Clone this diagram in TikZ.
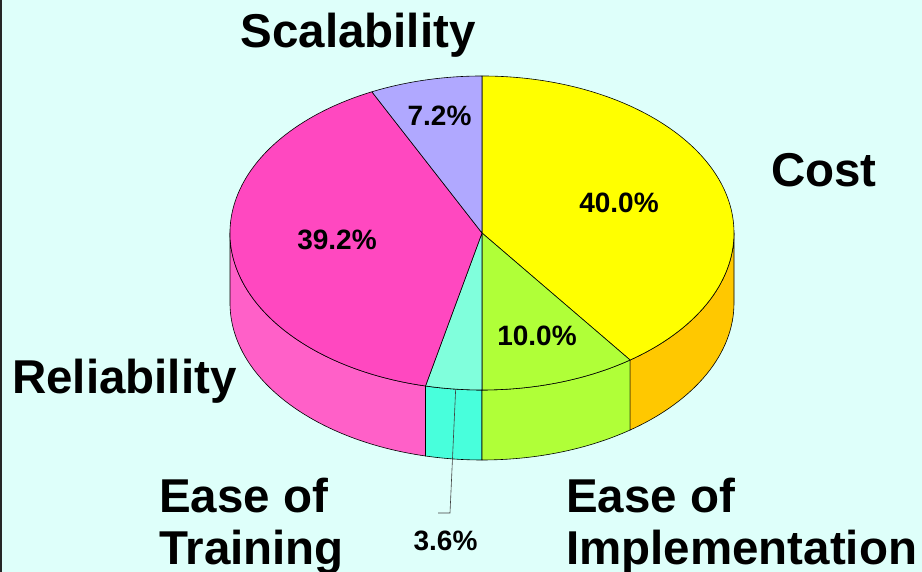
\documentclass[tikz,border=0pt]{standalone}
\usepackage{fontspec}
\setmainfont{Liberation Sans}
\usetikzlibrary{calc}
\definecolor{bgc}{HTML}{DEFFFA}
\definecolor{cyel}{HTML}{FFFF00}
\definecolor{cyelS}{HTML}{FFC800}
\definecolor{cgrn}{HTML}{B0FF38}
\definecolor{caqu}{HTML}{80FFDC}
\definecolor{caquS}{HTML}{48FFDC}
\definecolor{cpnk}{HTML}{FF48C0}
\definecolor{cpnkS}{HTML}{FF60C8}
\definecolor{clav}{HTML}{B0A8FF}
\begin{document}
\begin{tikzpicture}[x=1pt,y=1pt,
  slice/.style={draw=black,line width=0.6pt,line join=round},
  biglabel/.style={inner sep=0pt,font=\bfseries\fontsize{47.5}{52}\selectfont},
  pctlabel/.style={inner sep=0pt,font=\bfseries\fontsize{28}{32}\selectfont},
  leader/.style={draw=black!75,line width=0.6pt}]
\useasboundingbox (0,0) rectangle (922,572);
\fill[bgc] (0,0) rectangle (922,572);
\draw[black!85,line width=2pt] (1,0) -- (1,572);
\coordinate (C) at (482,339);
% side faces
\foreach \a/\b/\col in {180/257.04/cpnkS, 257.04/270/caquS, 270/306/cgrn, 306/360/cyelS}{
  \path[slice,fill=\col] ($(C)+(\a:252pt and 157pt)$)
    arc[start angle=\a,end angle=\b,x radius=252pt,y radius=157pt]
    -- ++(0,-70pt)
    arc[start angle=\b,end angle=\a,x radius=252pt,y radius=157pt] -- cycle;
}
% top wedges
\foreach \a/\b/\col in {90/-54/cyel, -54/-90/cgrn, -90/-102.96/caqu, -102.96/-244.08/cpnk, -244.08/-270/clav}{
  \path[slice,fill=\col] (C) -- ($(C)+(\a:252pt and 157pt)$)
    arc[start angle=\a,end angle=\b,x radius=252pt,y radius=157pt] -- cycle;
}
% category labels
\node[biglabel,anchor=base] (scal) at (358,524) {Scalability};
\node[biglabel,anchor=base west] (cost) at (771,385) {Cost};
\node[biglabel,anchor=base west] (reli) at (12,178) {Reliability};
\node[biglabel,anchor=base west] (train1) at (159,59) {Ease of};
\node[biglabel,anchor=base west] (train2) at (159,7) {Training};
\node[biglabel,anchor=base west] (impl1) at (566,59) {Ease of};
\node[biglabel,anchor=base west] (impl2) at (566,7) {Implementation};
% percentages
\node[pctlabel,anchor=base] (p40) at (619,359) {40.0\%};
\node[pctlabel,anchor=base] (p10) at (537,226) {10.0\%};
\node[pctlabel,anchor=base] (p39) at (337,322) {39.2\%};
\node[pctlabel,anchor=base] (p7) at (439.5,446) {7.2\%};
\node[pctlabel,anchor=base] (p3) at (445.5,21) {3.6\%};
% leader for 3.6%
\coordinate (lt) at ($(C)+(264:252pt and 157pt)$);
\coordinate (lend) at (438,59);
\draw[leader] (lt) -- (450,59) -- (lend);
\end{tikzpicture}
\end{document}
